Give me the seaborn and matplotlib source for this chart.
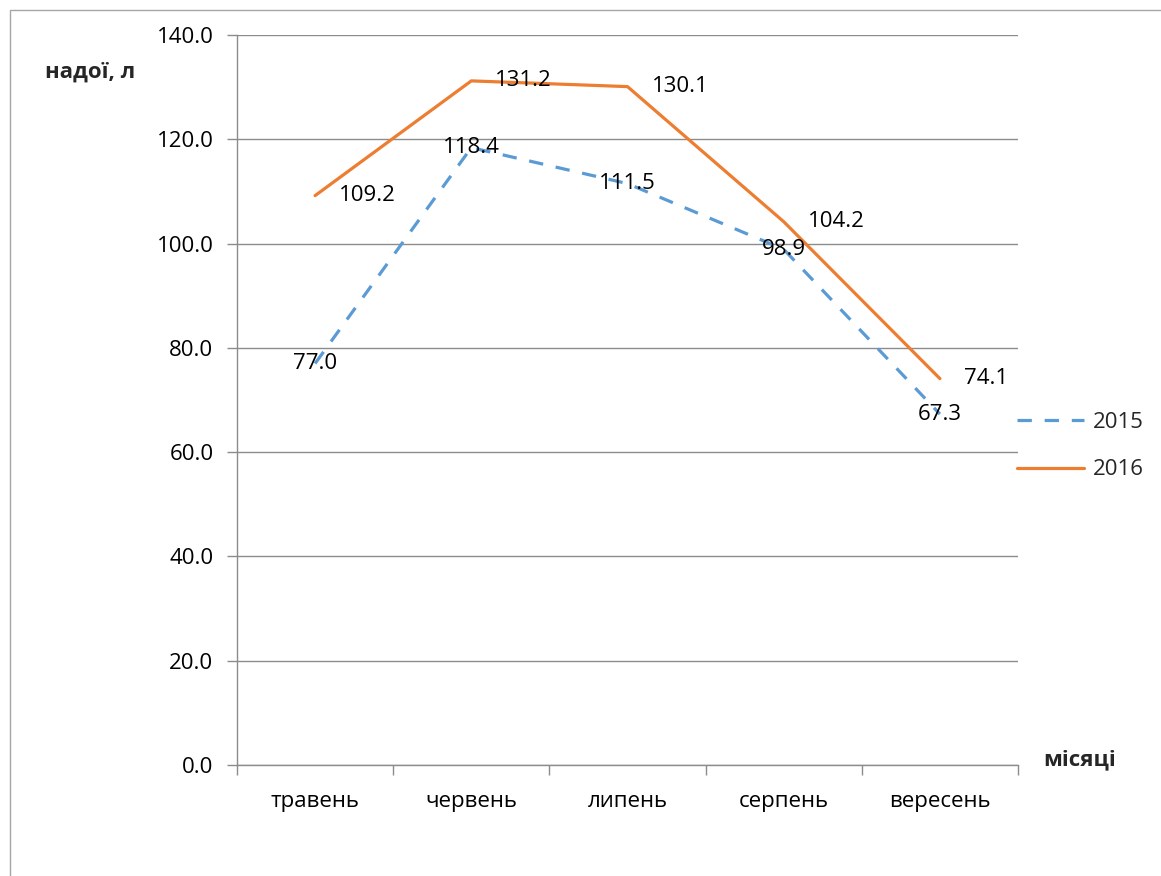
import matplotlib
matplotlib.use("Agg")
import matplotlib.pyplot as plt
import matplotlib.patches as mpatches
from matplotlib.ticker import FixedLocator, MultipleLocator, FormatStrFormatter
import seaborn as sns
import pandas as pd

# Milk yield by month, litres
months = ["травень", "червень", "липень", "серпень", "вересень"]
yield_2015 = [77.0, 118.4, 111.5, 98.9, 67.3]
yield_2016 = [109.2, 131.2, 130.1, 104.2, 74.1]
years = ["2015", "2016"]

df = pd.DataFrame({
    "month": months * 2,
    "value": yield_2015 + yield_2016,
    "year": [years[0]] * len(months) + [years[1]] * len(months),
})

sns.set_theme(style="white")
plt.rcParams["font.family"] = ["Open Sans", "DejaVu Sans"]

BLUE = "#5B9BD5"
ORANGE = "#ED7D31"
GRID = "#8C8C8C"
FS = 16

fig = plt.figure(figsize=(11.61, 8.76), dpi=100)
ax = fig.add_axes([237 / 1161, 1 - 765 / 876, (1018 - 237) / 1161, (765 - 35) / 876])

# outer chart frame
fig.patches.append(mpatches.Rectangle((10 / 1161, -0.05), 1.2, 1 - 10 / 876 + 0.05,
                                      transform=fig.transFigure, fill=False,
                                      edgecolor="#A6A6A6", linewidth=1.0))

sns.lineplot(data=df, x="month", y="value", hue="year", style="year",
             palette={"2015": BLUE, "2016": ORANGE},
             dashes={"2015": (4.5, 4), "2016": ""},
             linewidth=2.3, ax=ax, sort=False, legend=True)

ax.set_xlim(-0.5, len(months) - 0.5)
ax.set_ylim(0, 140)
ax.yaxis.set_major_locator(MultipleLocator(20))
ax.yaxis.set_major_formatter(FormatStrFormatter("%.1f"))
ax.grid(axis="y", color=GRID, linewidth=1.0)
ax.grid(axis="x", visible=False)

for side in ["top", "right"]:
    ax.spines[side].set_visible(False)
for side in ["left", "bottom"]:
    ax.spines[side].set_color(GRID)
    ax.spines[side].set_linewidth(1.0)

ax.tick_params(axis="y", which="major", left=True, length=7, width=1.0,
               color=GRID, labelsize=FS, pad=10, labelcolor="black")
ax.tick_params(axis="x", which="major", bottom=True, length=0, labelsize=FS,
               pad=19, labelcolor="black")
ax.xaxis.set_minor_locator(FixedLocator([i - 0.5 for i in range(len(months) + 1)]))
ax.tick_params(axis="x", which="minor", bottom=True, length=7, width=1.0, color=GRID)

ax.set_xlabel("")
ax.set_ylabel("")

# data labels
for i, v in enumerate(yield_2015):
    ax.annotate(f"{v:.1f}", (i, v), ha="center", va="center", fontsize=FS, color="black")
for i, v in enumerate(yield_2016):
    ax.annotate(f"{v:.1f}", (i, v), xytext=(24, 0), textcoords="offset pixels",
                ha="left", va="center", fontsize=FS, color="black")

fig.text(90 / 1161, 1 - 72 / 876, "надої, л", ha="center", va="center",
         fontsize=FS, fontweight="bold")
fig.text(1080 / 1161, 1 - 760 / 876, "місяці", ha="center", va="center",
         fontsize=FS, fontweight="bold")

leg = ax.legend(loc="center left", bbox_to_anchor=(1017 / 1161, 1 - 446 / 876),
                bbox_transform=fig.transFigure, frameon=False, fontsize=FS,
                handlelength=3.0, handletextpad=0.4, labelspacing=1.2,
                borderpad=0, borderaxespad=0, title=None)

fig.savefig("out.png", dpi=100)
